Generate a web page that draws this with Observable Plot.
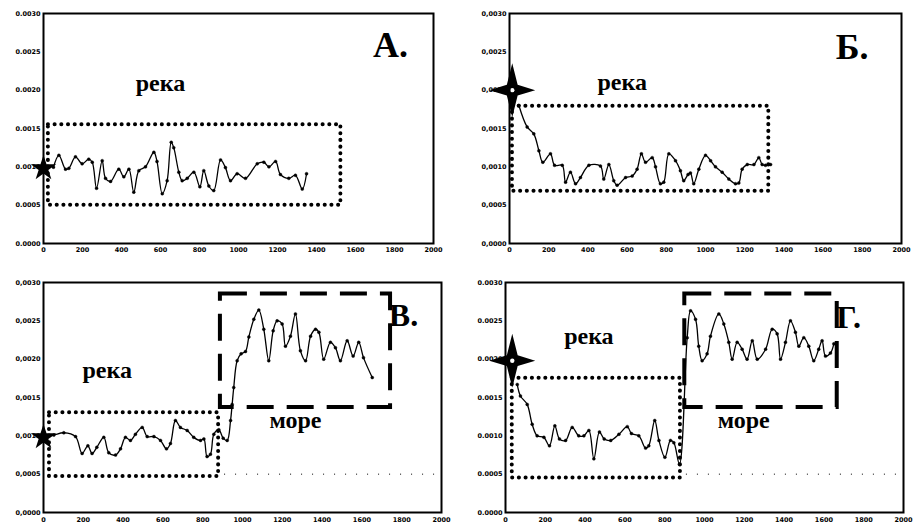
<!DOCTYPE html>
<html><head><meta charset="utf-8">
<script src="https://cdn.jsdelivr.net/npm/d3@7"></script>
<script src="https://cdn.jsdelivr.net/npm/@observablehq/plot@0.6"></script>
<style>
body{margin:0;background:#fff;}
#wrap{position:relative;width:915px;height:526px;overflow:hidden;background:#fff;}
#wrap > div{position:absolute;}
</style></head><body><div id="wrap"></div>
<script>
// ---- data ----
const xTicks = [0,200,400,600,800,1000,1200,1400,1600,1800,2000];
const yTicks = [0,0.0005,0.001,0.0015,0.002,0.0025,0.003];

const aX = [51,79,113,130,164,198,232,250,272,301,318,344,386,412,438,463,489,523,566,582,609,634,655,668,694,711,737,771,802,822,848,873,908,933,959,993,1036,1096,1130,1156,1190,1215,1258,1292,1327,1349];
const aY = [0.000995,0.00115,0.00097,0.00098,0.00113,0.00104,0.0011,0.00106,0.00072,0.00108,0.00085,0.00081,0.00097,0.00087,0.00097,0.00067,0.00095,0.001,0.00119,0.00107,0.00065,0.00082,0.00132,0.00125,0.00093,0.00082,0.00085,0.00093,0.00074,0.00095,0.00075,0.00069,0.00109,0.00099,0.00082,0.00091,0.00085,0.00104,0.00106,0.001,0.00107,0.0009,0.00085,0.00089,0.00071,0.00091];

const bX = [48,90,124,150,170,209,230,269,286,311,337,362,405,464,481,507,532,549,592,626,651,673,694,728,745,770,787,813,847,872,889,911,923,940,966,1000,1026,1051,1085,1119,1153,1170,1187,1213,1247,1272,1289,1306,1332];
const bY = [0.0018,0.00152,0.00143,0.00121,0.00106,0.00117,0.00102,0.00102,0.0008,0.00093,0.00078,0.00086,0.00102,0.00101,0.00084,0.00103,0.00082,0.00076,0.00086,0.00088,0.00097,0.00117,0.00106,0.00112,0.001,0.00078,0.0008,0.00117,0.00108,0.00095,0.00082,0.0009,0.00092,0.00078,0.00097,0.00115,0.00108,0.001,0.00093,0.00084,0.00078,0.00079,0.00097,0.00103,0.00103,0.00112,0.00103,0.00102,0.00103];

const vX = [0,52,102,161,194,223,244,268,303,328,362,387,412,437,462,496,521,555,588,618,638,663,688,722,755,789,806,822,839,856,881,903,923,940,948,956,973,993,1015,1032,1057,1082,1107,1132,1154,1174,1199,1216,1241,1266,1291,1317,1342,1367,1384,1408,1442,1467,1492,1526,1556,1584,1608,1652];
const vY = [0.00098,0.00101,0.00104,0.00099,0.00077,0.00087,0.00077,0.00085,0.00098,0.00078,0.00075,0.00083,0.00098,0.00094,0.00102,0.00111,0.00099,0.00099,0.00094,0.00083,0.0009,0.0012,0.00111,0.00107,0.00098,0.00094,0.00096,0.00073,0.00076,0.00102,0.00108,0.00097,0.00094,0.0012,0.00141,0.00163,0.00198,0.00207,0.0021,0.00229,0.00252,0.00264,0.00239,0.00198,0.00237,0.0025,0.00246,0.00217,0.0023,0.00259,0.00211,0.00198,0.0023,0.00239,0.00235,0.002,0.00222,0.00215,0.00198,0.00224,0.00204,0.00222,0.00202,0.00176];

const gX = [59,75,109,134,159,193,221,248,271,302,335,368,394,419,444,472,496,529,570,612,633,670,704,720,750,771,801,829,846,874,913,930,955,971,988,1013,1030,1072,1097,1122,1139,1164,1189,1214,1240,1265,1307,1340,1365,1382,1407,1432,1457,1474,1499,1524,1549,1574,1591,1608,1633,1650];
const gY = [0.00167,0.00152,0.00141,0.00115,0.001,0.00098,0.00087,0.00113,0.00096,0.00094,0.00111,0.001,0.001,0.00107,0.0007,0.00105,0.00096,0.00094,0.00102,0.00112,0.00103,0.001,0.00084,0.00087,0.0012,0.00094,0.00072,0.00094,0.00091,0.00063,0.00228,0.00263,0.00252,0.00217,0.00198,0.00207,0.0023,0.00259,0.00246,0.00222,0.002,0.00222,0.00213,0.002,0.00224,0.002,0.00213,0.00239,0.00233,0.002,0.00222,0.0025,0.00235,0.00217,0.00228,0.00217,0.00198,0.00213,0.00224,0.00204,0.00208,0.0022];

// boxes [x1,x2,y1,y2]
const aRiver = [25,1525,0.0005,0.00155];
const bRiver = [15,1323,0.00068,0.00179];
const vRiver = [30,880,0.00047,0.0013];
const vSea   = [889,1744,0.00137,0.00285];
const gRiver = [34,879,0.00045,0.00175];
const gSea   = [901,1667,0.00137,0.00285];

// start markers [x,y]
const aStart = [0,0.00098];
const bStart = [14,0.002];
const vStart = [0,0.00098];
const gStart = [34,0.00198];

const riverWord = "река";
const seaWord = "море";
const letters = ["А.","Б.","В.","Г."];
// label anchors (data coords)
const aLabels = [[600,0.00209],[1780,0.00258]];
const bLabels = [[575,0.0021],[1748,0.00256]];
const vLabels = [[320,0.00185],[1266,0.0012],[1809,0.00257]];
const gLabels = [[419,0.0023],[1197,0.0012],[1724,0.00254]];
const seaGridY = 0.0005;

// ---- drawing ----
const zip = (xs, ys) => xs.map((x, i) => ({x, y: ys[i]}));
const box = b => [{x1: b[0], x2: b[1], y1: b[2], y2: b[3]}];
const pt = p => [{x: p[0], y: p[1]}];

const star4 = {draw(ctx, size) {
  const R = Math.sqrt(size / Math.PI), h = R * 0.85, w = R * 0.2;
  ctx.moveTo(0, -R); ctx.lineTo(w, -w); ctx.lineTo(h, 0); ctx.lineTo(w, w);
  ctx.lineTo(0, R); ctx.lineTo(-w, w); ctx.lineTo(-h, 0); ctx.lineTo(-w, -w); ctx.closePath();
}};

const serif = "Liberation Serif, Times New Roman, serif";

function panel(cfg) {
  const fmt = v => d3.format(".4f")(v).replace(".", cfg.sep);
  const marks = [
    Plot.axisY({ticks: yTicks, tickSize: 0, tickPadding: 3, tickFormat: fmt, fontSize: 6.5, fontWeight: "bold"}),
    Plot.axisX({ticks: xTicks, tickSize: 0, tickPadding: cfg.xpad, tickFormat: d => String(d), fontSize: 6.5, fontWeight: "bold"}),
    Plot.rect(box(cfg.river), {x1: "x1", x2: "x2", y1: "y1", y2: "y2", fill: "none", stroke: "black",
      strokeWidth: 4, strokeDasharray: "0.1,6.6", strokeLinecap: "round"})
  ];
  if (cfg.sea) {
    marks.push(Plot.ruleY([{y: seaGridY, x1: cfg.river[1] + 30, x2: 1990}], {y: "y", x1: "x1", x2: "x2",
      stroke: "black", strokeWidth: 1, strokeDasharray: "1,10"}));
    marks.push(Plot.rect(box(cfg.sea), {x1: "x1", x2: "x2", y1: "y1", y2: "y2", fill: "none", stroke: "black",
      strokeWidth: 4, strokeDasharray: "27,13"}));
  }
  marks.push(
    Plot.line(cfg.data, {x: "x", y: "y", stroke: "black", strokeWidth: 1.3, curve: "catmull-rom"}),
    Plot.dot(cfg.data, {x: "x", y: "y", r: 1.5, fill: "black", stroke: "black", strokeWidth: 0.4})
  );
  if (cfg.star === 5) {
    marks.push(Plot.dot(pt(cfg.start), {x: "x", y: "y", symbol: "star", r: 8, fill: "black"}));
  } else {
    marks.push(Plot.dot(pt(cfg.start), {x: "x", y: "y", symbol: star4, r: 27, fill: "black"}));
    marks.push(Plot.dot(pt(cfg.start), {x: "x", y: "y", r: 2.2, fill: "white"}));
  }
  const words = cfg.words.map((t, i) => ({x: cfg.labels[i][0], y: cfg.labels[i][1], t}));
  const L = cfg.labels[cfg.labels.length - 1];
  marks.push(
    Plot.text(words, {x: "x", y: "y", text: "t", fontFamily: serif, fontWeight: "bold", fontSize: 24, fill: "black"}),
    Plot.text([{x: L[0], y: L[1], t: cfg.letter}], {x: "x", y: "y", text: "t", fontFamily: serif, fontWeight: "bold", fontSize: cfg.letterSize, fill: "black"}),
    Plot.frame({stroke: "black", strokeWidth: 2})
  );
  const svg = Plot.plot({
    width: cfg.w, height: cfg.h,
    marginLeft: cfg.m[0], marginRight: cfg.m[1], marginTop: cfg.m[2], marginBottom: cfg.m[3],
    x: {domain: [0, 2000], axis: null},
    y: {domain: [0, 0.003], axis: null},
    style: {fontFamily: "DejaVu Sans, sans-serif", fontSize: "6.5px", background: "white", overflow: "visible"},
    marks
  });
  const d = document.createElement("div");
  d.style.left = cfg.left + "px"; d.style.top = cfg.top + "px";
  d.appendChild(svg);
  document.getElementById("wrap").appendChild(d);
}

panel({data: zip(aX, aY), river: aRiver, start: aStart, star: 5, sep: ".", words: [riverWord], labels: aLabels,
  letter: letters[0], letterSize: 36, left: 0, top: 0, w: 458, h: 260, m: [43, 25, 13, 17], xpad: 4});
panel({data: zip(bX, bY), river: bRiver, start: bStart, star: 4, sep: ",", words: [riverWord], labels: bLabels,
  letter: letters[1], letterSize: 36, left: 458, top: 0, w: 457, h: 260, m: [51, 14, 13, 17], xpad: 4});
panel({data: zip(vX, vY), river: vRiver, sea: vSea, start: vStart, star: 5, sep: ",", words: [riverWord, seaWord], labels: vLabels,
  letter: letters[2], letterSize: 32, left: 0, top: 260, w: 458, h: 266, m: [43, 17, 22, 14], xpad: 5});
panel({data: zip(gX, gY), river: gRiver, sea: gSea, start: gStart, star: 4, sep: ".", words: [riverWord, seaWord], labels: gLabels,
  letter: letters[3], letterSize: 32, left: 458, top: 260, w: 457, h: 266, m: [47, 12, 22, 14], xpad: 5});
</script></body></html>
